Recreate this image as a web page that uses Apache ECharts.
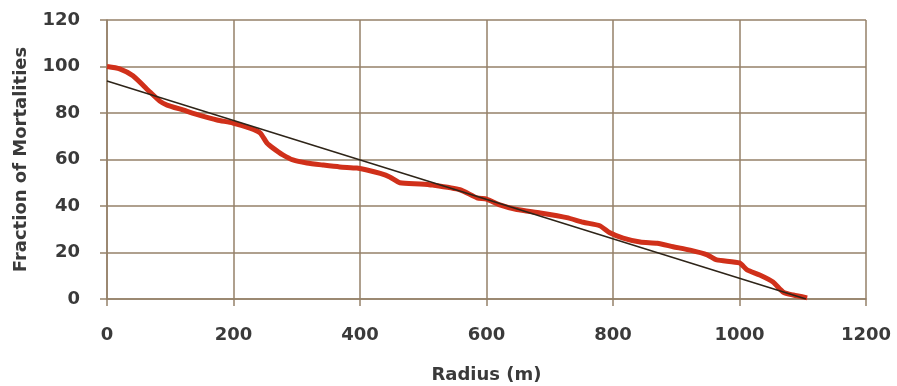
<!DOCTYPE html>
<html>
<head>
<meta charset="utf-8">
<script src="https://cdn.jsdelivr.net/npm/echarts@6/dist/echarts.min.js"></script>
<style>
  html, body { margin: 0; padding: 0; background: #ffffff; }
  #chart { width: 897px; height: 386px; }
</style>
</head>
<body>
<div id="chart"></div>
<script>
const radius = [0, 20, 41, 68, 84, 95, 120, 147, 174, 199, 226, 242, 253, 262, 278, 294, 316, 342, 368, 395, 411, 432, 447, 463, 495, 515, 558, 585, 600, 621, 648, 685, 727, 753, 779, 795, 816, 843, 870, 895, 922, 949, 964, 1000, 1012, 1032, 1053, 1069, 1085, 1107];
const fraction = [100, 99, 96, 89, 85, 83.4, 81.3, 79, 77, 75.7, 73.5, 71.5, 67, 65, 62, 59.8, 58.5, 57.6, 56.8, 56.3, 55.5, 54, 52.5, 50, 49.5, 49, 47, 43.5, 43, 40.5, 38.5, 37, 35, 33, 31.5, 28.5, 26.2, 24.5, 24, 22.5, 21, 19, 16.8, 15.5, 12.5, 10.3, 7.3, 3, 1.7, 0.5];
const trendRadius = [0, 1105];
const trendFraction = [93.8, 0];
const xTicks = [0, 200, 400, 600, 800, 1000, 1200];
const yTicks = [0, 20, 40, 60, 80, 100, 120];

const gridColor = '#958169';
const labelColor = '#3a3a3a';
const fontFamily = '"DejaVu Sans", sans-serif';

const chart = echarts.init(document.getElementById('chart'), null, { renderer: 'canvas' });
chart.setOption({
  animation: false,
  backgroundColor: '#ffffff',
  grid: { left: 107, right: 31, top: 20, bottom: 87, containLabel: false, outerBoundsMode: 'none' },
  xAxis: {
    type: 'value',
    min: xTicks[0], max: xTicks[xTicks.length - 1], interval: 200,
    name: 'Radius (m)', nameLocation: 'middle', nameGap: 67,
    nameTextStyle: { fontFamily, fontWeight: 'bold', fontSize: 18, color: labelColor },
    axisLine: { show: true, lineStyle: { color: gridColor, width: 1.5 } },
    axisTick: { show: true, length: 7, inside: false, lineStyle: { color: gridColor, width: 1.5 } },
    axisLabel: { margin: 27, fontFamily, fontWeight: 'bold', fontSize: 18, color: labelColor, formatter: v => String(v) },
    splitLine: { show: true, lineStyle: { color: gridColor, width: 1.5 } }
  },
  yAxis: {
    type: 'value',
    min: yTicks[0], max: yTicks[yTicks.length - 1], interval: 20,
    name: 'Fraction of Mortalities', nameLocation: 'middle', nameGap: 77, nameRotate: 90,
    nameTextStyle: { fontFamily, fontWeight: 'bold', fontSize: 18, color: labelColor },
    axisLine: { show: true, lineStyle: { color: gridColor, width: 1.5 } },
    axisTick: { show: true, length: 7, inside: false, lineStyle: { color: gridColor, width: 1.5 } },
    axisLabel: { margin: 27, fontFamily, fontWeight: 'bold', fontSize: 18, color: labelColor, formatter: v => String(v) },
    splitLine: { show: true, lineStyle: { color: gridColor, width: 1.5 } }
  },
  series: [
    {
      type: 'line',
      data: radius.map((r, i) => [r, fraction[i]]),
      showSymbol: false,
      smooth: 0.2,
      lineStyle: { color: '#d0301a', width: 5 },
      z: 2
    },
    {
      type: 'line',
      data: trendRadius.map((r, i) => [r, trendFraction[i]]),
      showSymbol: false,
      lineStyle: { color: '#2e2418', width: 1.5 },
      z: 3
    }
  ]
});
</script>
</body>
</html>
